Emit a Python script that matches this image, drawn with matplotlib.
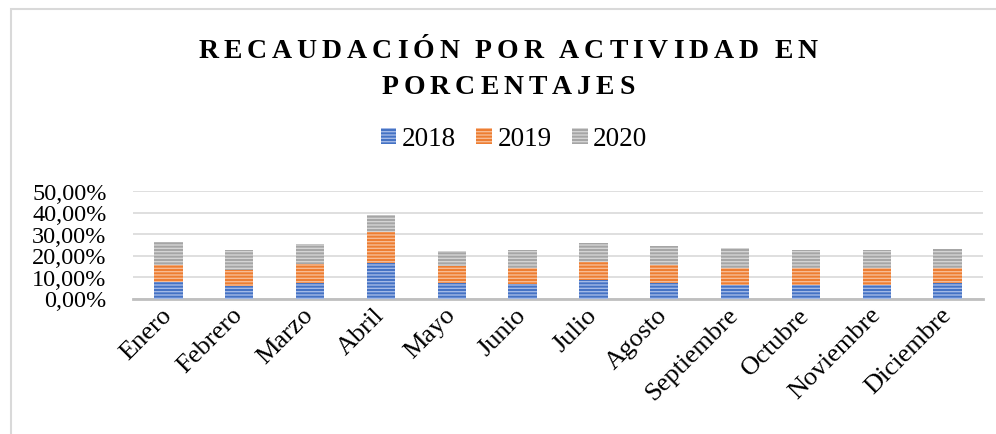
import numpy as np
import matplotlib
matplotlib.use('Agg')
import matplotlib.pyplot as plt
from matplotlib.patches import Patch, Rectangle
from matplotlib.font_manager import FontProperties
from matplotlib.ticker import FuncFormatter, MultipleLocator

months = ['Enero', 'Febrero', 'Marzo', 'Abril', 'Mayo', 'Junio', 'Julio',
          'Agosto', 'Septiembre', 'Octubre', 'Noviembre', 'Diciembre']
y2018 = [7.8, 5.7, 7.3, 16.7, 7.3, 6.9, 8.7, 7.3, 6.4, 6.3, 6.4, 7.2]
y2019 = [7.8, 7.7, 8.7, 14.1, 7.7, 7.3, 8.4, 8.4, 7.9, 7.7, 7.8, 7.1]
y2020 = [10.5, 9.3, 9.2, 8.0, 7.2, 8.4, 8.7, 8.9, 9.0, 8.4, 8.5, 8.6]
years = ['2018', '2019', '2020']

plt.rcParams['font.family'] = 'Liberation Serif'
plt.rcParams['hatch.linewidth'] = 1.0

W, H = 996, 435
fig = plt.figure(figsize=(W / 100, H / 100), dpi=100)
ax = fig.add_axes([133 / W, 1 - 299.5 / H, 850 / W, 107.5 / H])

# face colour, stripe colour
styles = [('#4472c4', '#a3b9e6'), ('#ed7d31', '#f7bb93'), ('#a5a5a5', '#d4d4d4')]

x = np.arange(len(months))
bottom = np.zeros(len(months))
for vals, (fc, hc) in zip([y2018, y2019, y2020], styles):
    v = np.array(vals) / 100
    ax.bar(x, v, 0.4, bottom=bottom, color=fc, edgecolor=hc, linewidth=0,
           hatch='-----', zorder=3)
    bottom += v

ax.set_xlim(-0.5, len(months) - 0.5)
ax.set_ylim(0, 0.5)
ax.yaxis.set_major_locator(MultipleLocator(0.1))
ax.yaxis.set_major_formatter(FuncFormatter(lambda v, p: f'{v * 100:.2f}%'.replace('.', ',')))
ax.grid(axis='y', color='#d9d9d9', linewidth=1.2)
ax.set_axisbelow(True)
for s in ['top', 'right', 'left']:
    ax.spines[s].set_visible(False)
ax.spines['bottom'].set_color('#bfbfbf')
ax.spines['bottom'].set_linewidth(2)
ax.tick_params(axis='y', length=0, pad=19, labelsize=17.5)
ax.tick_params(axis='x', length=0, pad=9, labelsize=19)
ax.set_xticks(x)
ax.set_xticklabels(months, rotation=45, ha='right', va='center', rotation_mode='anchor')

handles = [Patch(facecolor=fc, edgecolor=hc, linewidth=0, hatch='-----', label=lab)
           for (fc, hc), lab in zip(styles, years)]
fig.legend(handles=handles, loc='center', bbox_to_anchor=(514 / W, 1 - 140 / H),
           ncol=3, frameon=False, fontsize=19.5, handlelength=0.58, handleheight=0.55,
           handletextpad=0.2, columnspacing=0.75)

# chart border (cut off at right and bottom)
fig.add_artist(Rectangle((11 / W, -0.5), 1.2, 1.5 - 10 / H, transform=fig.transFigure,
                         fill=False, edgecolor='#d9d9d9', linewidth=1.5))


def spaced_line(text, ybase, size, gap, xc=508):
    prop = FontProperties(family='Liberation Serif', weight='bold', size=size)
    r = fig.canvas.get_renderer()
    widths = []
    for ch in text:
        if ch == ' ':
            widths.append(size * 100 / 72 * 0.2)
        else:
            widths.append(r.get_text_width_height_descent(ch, prop, ismath=False)[0])
    total = sum(widths) + gap * (len(text) - 1)
    xp = xc - total / 2
    for ch, w in zip(text, widths):
        if ch != ' ':
            fig.text(xp / W, 1 - ybase / H, ch, fontproperties=prop, ha='left', va='baseline')
        xp += w + gap


spaced_line('RECAUDACIÓN POR ACTIVIDAD EN', 57.5, 20, 5.0)
spaced_line('PORCENTAJES', 94.5, 20, 5.0)

fig.savefig('out.png', dpi=100)
